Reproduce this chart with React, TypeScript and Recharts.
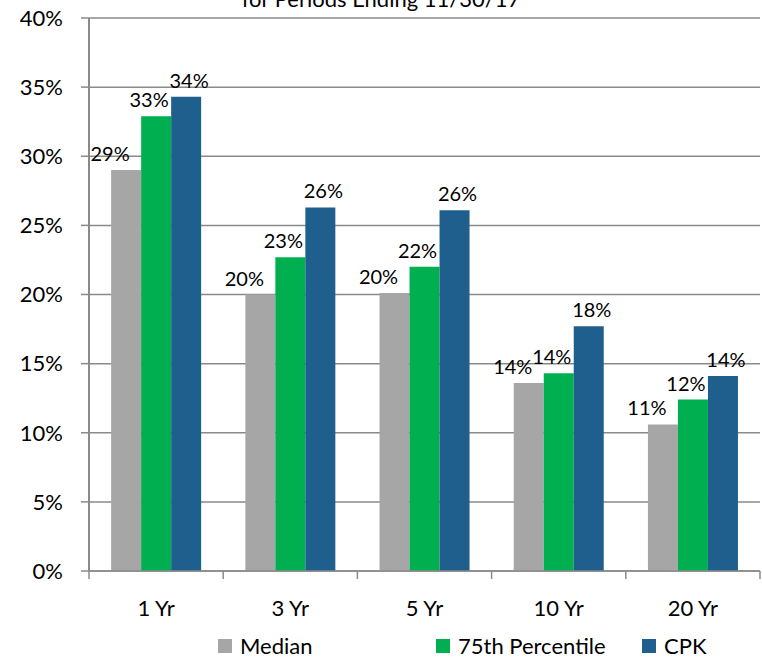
import React from "react";
import {
  BarChart,
  Bar,
  XAxis,
  YAxis,
  CartesianGrid,
  LabelList,
} from "recharts";

// periods and returns (percent)
const periods = ["1 Yr", "3 Yr", "5 Yr", "10 Yr", "20 Yr"];
const median = [29.0, 20.0, 20.1, 13.6, 10.6];
const percentile75 = [32.9, 22.7, 22.0, 14.3, 12.4];
const cpk = [34.3, 26.3, 26.1, 17.7, 14.1];
const yTicks = [0, 5, 10, 15, 20, 25, 30, 35, 40];

const W = 762;
const H = 660;
const M = { top: 18, right: 2, bottom: 29, left: 0 };
const Y_AXIS_W = 89;
const X_AXIS_H = 60;
const BAND = (W - M.left - M.right - Y_AXIS_W) / periods.length;

const FONT = "Lato, 'Open Sans', sans-serif";
const GRID = "#8a8a8a";

const series = [
  { key: "median", name: "Median", color: "#a6a6a6", dx: -16 },
  { key: "p75", name: "75th Percentile", color: "#00b050", dx: -7 },
  { key: "cpk", name: "CPK", color: "#1f5f8e", dx: 3 },
];

const data = periods.map((p, i) => ({
  period: p,
  median: median[i],
  p75: percentile75[i],
  cpk: cpk[i],
}));

const makeLabel = (dx: number) => (props: any) => {
  const { x, y, width, value } = props;
  return (
    <text
      x={Number(x) + Number(width) / 2 + dx}
      y={Number(y) - 9}
      textAnchor="middle"
      fontSize={20}
      fontFamily={FONT}
      fill="#000"
    >
      {`${Math.round(value)}%`}
    </text>
  );
};

// category label with Excel style tick marks between categories
const XTick = (props: any) => {
  const { x, y, payload, index } = props;
  const left = x - BAND / 2;
  const last = index === periods.length - 1;
  return (
    <g>
      <line x1={left} x2={left} y1={y} y2={y + 8} stroke={GRID} strokeWidth={1.5} />
      {last && (
        <line
          x1={x + BAND / 2}
          x2={x + BAND / 2}
          y1={y}
          y2={y + 8}
          stroke={GRID}
          strokeWidth={1.5}
        />
      )}
      <text
        x={x}
        y={y + 36}
        textAnchor="middle"
        dominantBaseline="central"
        fontSize={22}
        fontFamily={FONT}
        fill="#000"
      >
        {payload.value}
      </text>
    </g>
  );
};

export default function App() {
  return (
    <div style={{ position: "absolute", left: 0, top: 0, width: W, height: H, background: "#fff", overflow: "hidden" }}>
      <div
        style={{
          position: "absolute",
          left: 0,
          width: W,
          top: -11,
          textAlign: "center",
          fontFamily: FONT,
          fontSize: 22,
          lineHeight: "20px",
        }}
      >
        for Periods Ending 11/30/17
      </div>
      <BarChart
        width={W}
        height={H}
        data={data}
        margin={M}
        barCategoryGap="16.5%"
        barGap={0}
      >
        <CartesianGrid vertical={false} stroke={GRID} strokeWidth={1.5} />
        <XAxis
          dataKey="period"
          height={X_AXIS_H}
          tickSize={0}
          tickMargin={0}
          tickLine={false}
          axisLine={{ stroke: GRID, strokeWidth: 1.5 }}
          tick={<XTick />}
          interval={0}
        />
        <YAxis
          width={Y_AXIS_W}
          domain={[0, 40]}
          ticks={yTicks}
          tickFormatter={(v) => `${v}%`}
          tickSize={8}
          tickMargin={18}
          axisLine={{ stroke: GRID, strokeWidth: 2 }}
          tickLine={{ stroke: GRID, strokeWidth: 1.5 }}
          tick={{ fontSize: 22, fontFamily: FONT, fill: "#000" }}
          interval={0}
        />
        {series.map((s) => (
          <Bar
            key={s.key}
            dataKey={s.key}
            name={s.name}
            fill={s.color}
            isAnimationActive={false}
          >
            <LabelList dataKey={s.key} content={makeLabel(s.dx)} />
          </Bar>
        ))}
      </BarChart>
      <div
        style={{
          position: "absolute",
          left: 218,
          top: 633,
          display: "flex",
          fontFamily: FONT,
          fontSize: 22,
          lineHeight: "26px",
        }}
      >
        {series.map((s, i) => (
          <div
            key={s.key}
            style={{ display: "flex", alignItems: "center", width: i === 0 ? 218 : 206 }}
          >
            <span
              style={{
                display: "inline-block",
                width: 14,
                height: 14,
                background: s.color,
                marginRight: 8,
              }}
            />
            <span>{s.name}</span>
          </div>
        ))}
      </div>
    </div>
  );
}
